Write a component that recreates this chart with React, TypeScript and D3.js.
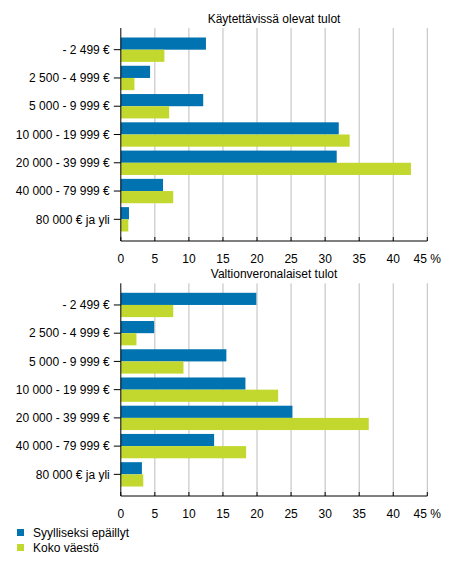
import React from "react";
import * as d3 from "d3";

const categories = [
  "- 2 499 €",
  "2 500 - 4 999 €",
  "5 000 - 9 999 €",
  "10 000 - 19 999 €",
  "20 000 - 39 999 €",
  "40 000 - 79 999 €",
  "80 000 € ja yli",
];
const seriesNames = ["Syylliseksi epäillyt", "Koko väestö"];
const colors = ["#0073b0", "#c2d82f"];

const panelTitles = ["Käytettävissä olevat tulot", "Valtionveronalaiset tulot"];
const disposableSuspects = [12.5, 4.3, 12.1, 32.0, 31.7, 6.2, 1.2];
const disposablePopulation = [6.4, 2.0, 7.1, 33.6, 42.6, 7.7, 1.1];
const taxableSuspects = [19.9, 4.9, 15.5, 18.3, 25.2, 13.7, 3.1];
const taxablePopulation = [7.7, 2.3, 9.2, 23.1, 36.4, 18.4, 3.3];
const xTicks = [0, 5, 10, 15, 20, 25, 30, 35, 40, 45];

const W = 454;
const H = 567;
const FONT = "'Liberation Sans', Arial, sans-serif";

const x = d3.scaleLinear().domain([0, 45]).range([120.8, 427.3]);

function Panel({ title, s1, s2, top, bottom }: { title: string; s1: number[]; s2: number[]; top: number; bottom: number }) {
  const y = d3
    .scaleBand<string>()
    .domain(categories)
    .range([top, bottom])
    .paddingInner(0.138)
    .paddingOuter(0.336);
  const bh = y.bandwidth() / 2;
  const x0 = x(0);
  return (
    <g>
      <text x={(x(0) + x(45)) / 2} y={top - 5} textAnchor="middle" fontSize={12} fontFamily={FONT} fill="#000">
        {title}
      </text>
      {xTicks.slice(1).map((t) => (
        <line key={"g" + t} x1={x(t)} x2={x(t)} y1={top} y2={bottom} stroke="#bdbdbd" strokeWidth={1} />
      ))}
      {categories.map((c, i) => (
        <g key={c}>
          <rect x={x0} y={y(c)!} width={x(s1[i]) - x0} height={bh} fill={colors[0]} />
          <rect x={x0} y={y(c)! + bh} width={x(s2[i]) - x0} height={bh} fill={colors[1]} />
          <line x1={x0 - 7} x2={x0} y1={y(c)! + bh} y2={y(c)! + bh} stroke="#000" />
          <text x={x0 - 11} y={y(c)! + bh} dy="0.35em" textAnchor="end" fontSize={12} fontFamily={FONT} fill="#000">
            {c}
          </text>
        </g>
      ))}
      <line x1={x0} x2={x0} y1={top} y2={bottom} stroke="#000" />
      <line x1={x0} x2={x(45)} y1={bottom} y2={bottom} stroke="#000" />
      {xTicks.map((t) => (
        <g key={"t" + t}>
          <line x1={x(t)} x2={x(t)} y1={bottom - 4} y2={bottom} stroke="#000" />
          <text x={x(t)} y={bottom + 21.5} textAnchor="middle" fontSize={12} fontFamily={FONT} fill="#000">
            {t === 45 ? "45 %" : String(t)}
          </text>
        </g>
      ))}
    </g>
  );
}

export default function App() {
  return (
    <svg width={W} height={H} style={{ display: "block", position: "absolute", left: 0, top: 0, background: "#fff" }}>
      <rect width={W} height={H} fill="#fff" />
      <Panel title={panelTitles[0]} s1={disposableSuspects} s2={disposablePopulation} top={28} bottom={241} />
      <Panel title={panelTitles[1]} s1={taxableSuspects} s2={taxablePopulation} top={283.3} bottom={496} />
      {seriesNames.map((n, i) => (
        <g key={n}>
          <rect x={17} y={529 + i * 15} width={7} height={7} fill={colors[i]} />
          <text x={33} y={532.5 + i * 15} dy="0.35em" fontSize={12} fontFamily={FONT} fill="#000">
            {n}
          </text>
        </g>
      ))}
    </svg>
  );
}
